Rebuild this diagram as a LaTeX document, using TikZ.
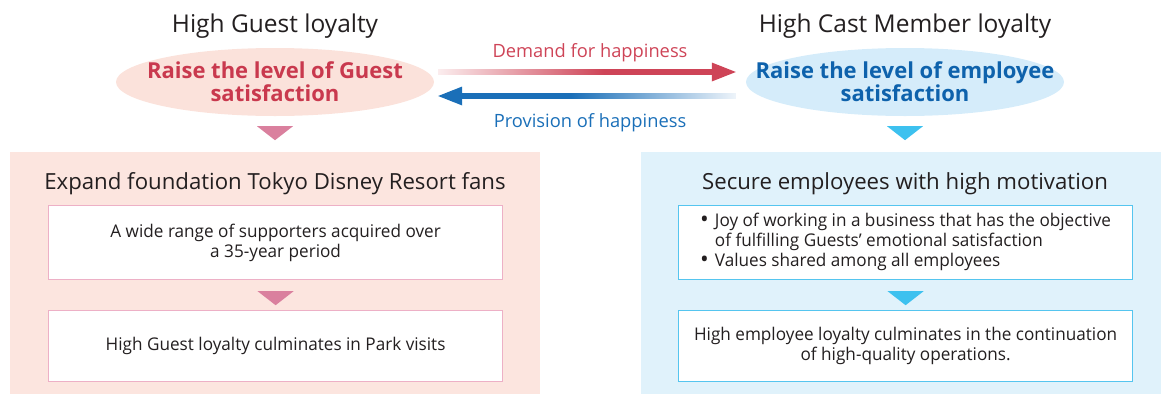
\documentclass[tikz,border=0pt]{standalone}
\usepackage{fontspec}
\setmainfont{Open Sans}
\newfontfamily\condfont[FakeStretch=0.98]{Open Sans}
\usetikzlibrary{shapes.geometric,calc}

\definecolor{guestfill}{HTML}{FCE5DF}
\definecolor{guestoval}{HTML}{FBE2DB}
\definecolor{guestline}{HTML}{EDB0C6}
\definecolor{guesttri}{HTML}{DA809E}
\definecolor{guestred}{HTML}{C9394E}
\definecolor{demandred}{HTML}{CE4457}
\definecolor{demandpale}{HTML}{FBEDEE}
\definecolor{castfill}{HTML}{E0F2FB}
\definecolor{castoval}{HTML}{D5ECFA}
\definecolor{castline}{HTML}{55C5EF}
\definecolor{casttri}{HTML}{3DC1EF}
\definecolor{castblue}{HTML}{0E62AC}
\definecolor{provblue}{HTML}{1A6FB8}
\definecolor{provpale}{HTML}{EEF4FA}
\definecolor{inktext}{HTML}{231F20}

% horizontal fades for the two exchange arrows
\pgfdeclarehorizontalshading{demandfade}{100bp}{color(0bp)=(white); color(25bp)=(demandpale); color(55bp)=(demandred); color(100bp)=(demandred)}
\pgfdeclarehorizontalshading{provfade}{100bp}{color(0bp)=(provblue); color(45bp)=(provblue); color(75bp)=(provpale); color(100bp)=(white)}

% a slightly larger list bullet
\newcommand{\listdot}{\raisebox{-0.05ex}{\scalebox{1.35}{\textbullet}}\hspace{0.35em}}

\tikzset{
  title/.style={anchor=base, text=inktext, font=\fontsize{24.5}{28}\selectfont},
  heading/.style={anchor=base, text=inktext, font=\fontsize{22.2}{26}\selectfont},
  oval/.style={ellipse, minimum width=318, minimum height=68, inner sep=0pt},
  ovaltext/.style={align=center, inner sep=0pt, font=\bfseries\fontsize{22}{23}\selectfont},
  flowlabel/.style={anchor=base, font=\fontsize{18.3}{22}\selectfont},
  panel/.style={anchor=north west, inner sep=0pt},
  textbox/.style={anchor=north west, fill=white, line width=1.2pt, inner sep=0pt,
    minimum width=454, align=center, text=inktext,
    font=\condfont\fontsize{17.5}{20}\selectfont}
}

\begin{document}
\begin{tikzpicture}[x=1pt,y=-1pt]
\useasboundingbox (0,0) rectangle (1161,394);

% column titles
\node[title] (gT) at (275,32) {High Guest loyalty};
\node[title] (cT) at (905,32) {High Cast Member loyalty};

% satisfaction ovals
\node[oval, fill=guestoval] (gO) at (275,82) {};
\node[ovaltext, text=guestred] (gOt) at (gO) {Raise the level of Guest\\satisfaction};
\node[oval, fill=castoval] (cO) at (905,82) {};
\node[ovaltext, text=castblue] (cOt) at (cO) {Raise the level of employee\\satisfaction};

% exchange arrows between the ovals
\coordinate (dS) at ($(gO.east)+(4,-10)$);
\coordinate (dE) at ($(cO.west)+(-10,-10)$);
\coordinate (pS) at ($(cO.west)+(-10,14)$);
\coordinate (pE) at ($(gO.east)+(4,14)$);
\shade[shading=demandfade] ($(dS)+(0,-2.6)$) rectangle ($(dE)+(-22,2.6)$);
\fill[demandred] ($(dE)+(-24,-9.5)$) -- (dE) -- ($(dE)+(-24,9.5)$) -- cycle;
\shade[shading=provfade] ($(pE)+(22,-2.6)$) rectangle ($(pS)+(0,2.6)$);
\fill[provblue] ($(pE)+(24,-9.5)$) -- (pE) -- ($(pE)+(24,9.5)$) -- cycle;

\node[flowlabel, text=demandred] (dL) at (590,57) {Demand for happiness};
\node[flowlabel, text=provblue] (pL) at (590,127) {Provision of happiness};

% panels
\node[panel, fill=guestfill, minimum width=530, minimum height=242] (gP) at (10,152) {};
\node[panel, fill=castfill, minimum width=520, minimum height=242] (cP) at (641,152) {};

% arrows from ovals down to panels
\fill[guesttri] ($(gO.south)+(-18,10)$) -- ($(gO.south)+(18,10)$) -- ($(gO.south)+(0,24)$) -- cycle;
\fill[casttri] ($(cO.south)+(-18,10)$) -- ($(cO.south)+(18,10)$) -- ($(cO.south)+(0,24)$) -- cycle;

% panel headings
\node[heading] (gH) at (275,189) {Expand foundation Tokyo Disney Resort fans};
\node[heading] (cH) at (905,189) {Secure employees with high motivation};

% guest column boxes
\node[textbox, draw=guestline, minimum height=74] (g1) at (48,205)
  {A wide range of supporters acquired over\\a 35-year period};
\node[textbox, draw=guestline, minimum height=71] (g2) at (48,310)
  {High Guest loyalty culminates in Park visits};
\fill[guesttri] ($(g1.south)+(-18,11)$) -- ($(g1.south)+(18,11)$) -- ($(g1.south)+(0,25)$) -- cycle;

% cast column boxes
\node[textbox, draw=castline, minimum height=74] (c1) at (678,205)
  {\begin{tabular}{@{}l@{}}
   \listdot Joy of working in a business that has the objective\\
   \phantom{\listdot}of fulfilling Guests’ emotional satisfaction\\
   \listdot Values shared among all employees
   \end{tabular}};
\node[textbox, draw=castline, minimum height=71] (c2) at (678,310)
  {High employee loyalty culminates in the continuation\\of high-quality operations.};
\fill[casttri] ($(c1.south)+(-18,11)$) -- ($(c1.south)+(18,11)$) -- ($(c1.south)+(0,25)$) -- cycle;
\end{tikzpicture}
\end{document}
